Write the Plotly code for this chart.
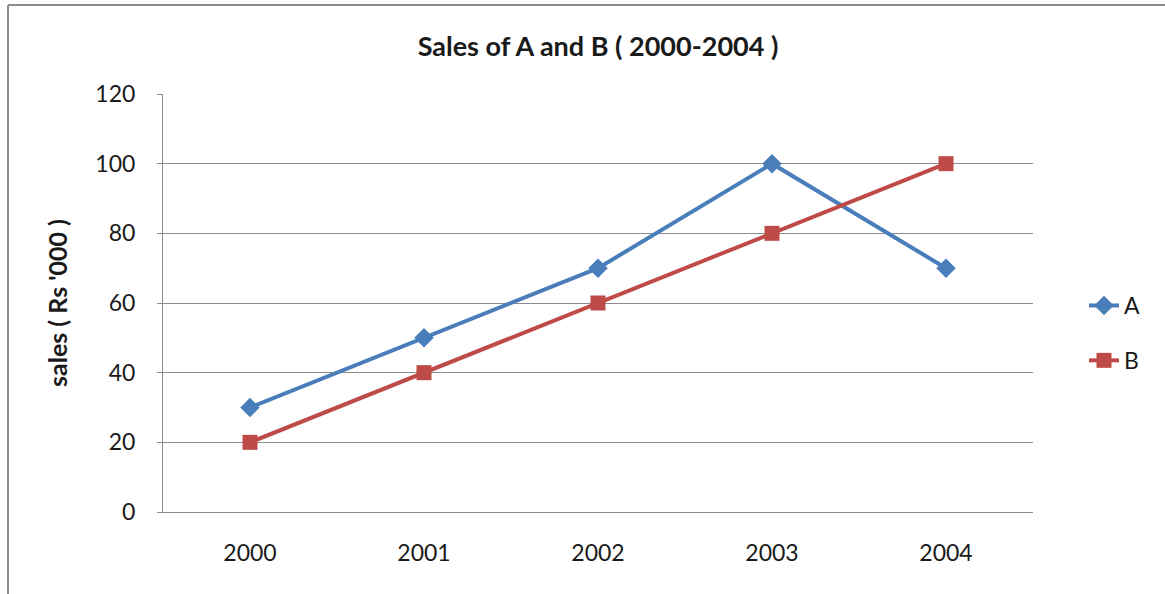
import plotly.graph_objects as go

years = ["2000", "2001", "2002", "2003", "2004"]
sales_a = [30, 50, 70, 100, 70]
sales_b = [20, 40, 60, 80, 100]
y_ticks = [0, 20, 40, 60, 80, 100, 120]

FONT = "Lato, 'Open Sans', sans-serif"
W, H = 1165, 594
L, R, T, B = 163, 132, 94, 82
pw, ph = W - L - R, H - T - B

fig = go.Figure()
fig.add_trace(go.Scatter(
    x=years, y=sales_a, name="A", mode="lines+markers",
    line=dict(color="#4A7EBB", width=4),
    marker=dict(symbol="diamond", size=15, color="#4A7EBB"),
    legendgroup="A",
))
fig.add_trace(go.Scatter(
    x=years, y=sales_b, name="B", mode="lines+markers",
    line=dict(color="#BE4B48", width=4),
    marker=dict(symbol="square", size=15, color="#BE4B48"),
    legendgroup="B",
))

def px_to_paper_x(px):
    return (px - L) / pw

def px_to_paper_y(py):
    return (H - B - py) / ph

# outer chart border (left and top edges visible)
fig.add_shape(type="line", xref="paper", yref="paper",
              x0=px_to_paper_x(8), x1=px_to_paper_x(8),
              y0=px_to_paper_y(600), y1=px_to_paper_y(5),
              line=dict(color="#8C8C8C", width=2))
fig.add_shape(type="line", xref="paper", yref="paper",
              x0=px_to_paper_x(8), x1=px_to_paper_x(1170),
              y0=px_to_paper_y(5), y1=px_to_paper_y(5),
              line=dict(color="#8C8C8C", width=2))

fig.update_layout(
    width=W, height=H,
    margin=dict(l=L, r=R, t=T, b=B),
    paper_bgcolor="white", plot_bgcolor="white",
    font=dict(family=FONT, color="#1A1A1A", size=24),
    title=dict(text="<b>Sales of A and B ( 2000-2004 )</b>", x=0.5, xref="paper",
               y=1 - 47 / H, yanchor="middle", xanchor="center",
               font=dict(size=27, family=FONT, color="#1A1A1A")),
    showlegend=True,
    legend=dict(x=px_to_paper_x(1084), xanchor="left",
                y=px_to_paper_y(333), yanchor="middle",
                traceorder="grouped", tracegroupgap=22,
                font=dict(size=23, family=FONT, color="#1A1A1A"),
                bgcolor="rgba(0,0,0,0)"),
)
fig.update_xaxes(
    type="category", range=[-0.5, 4.5],
    showgrid=False, showline=True, linecolor="#8C8C8C", linewidth=1,
    ticks="", tickfont=dict(size=23), ticklabelstandoff=20,
    zeroline=False, fixedrange=True,
)
fig.update_yaxes(
    range=[0, 120], tickvals=y_ticks,
    showgrid=True, gridcolor="#8C8C8C", gridwidth=1,
    showline=True, linecolor="#8C8C8C", linewidth=1,
    ticks="outside", ticklen=5, tickcolor="#8C8C8C",
    tickfont=dict(size=23), ticklabelstandoff=17,
    zeroline=False,
    title=dict(text="<b>sales ( Rs '000 )</b>", font=dict(size=25), standoff=20),
)

fig.write_html("out.html")
